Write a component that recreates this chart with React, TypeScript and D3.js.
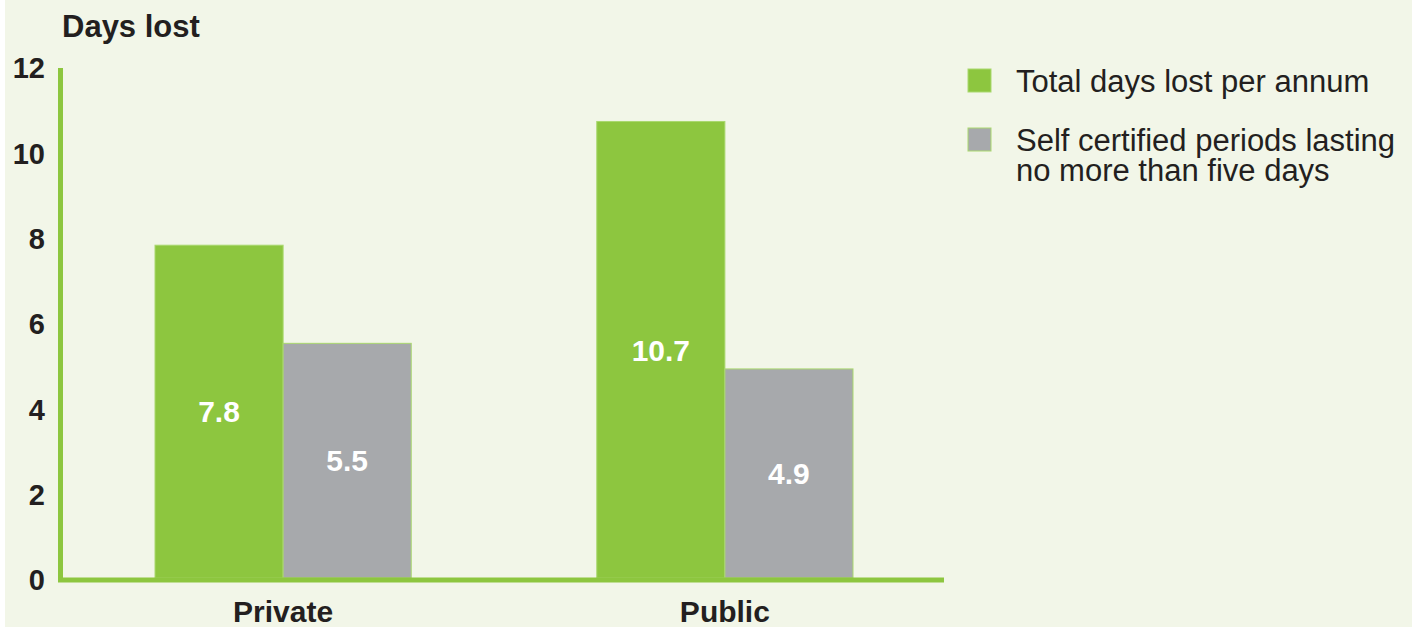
import React from 'react'
import * as d3 from 'd3'

const categories = ['Private', 'Public']
const seriesKeys = ['total', 'selfCert']
const seriesLabels = [['Total days lost per annum'], ['Self certified periods lasting', 'no more than five days']]
const seriesColors = ['#8dc63f', '#a7a9ac']
const totalDays = [7.8, 10.7]
const selfCertDays = [5.5, 4.9]
const yTicks = [0, 2, 4, 6, 8, 10, 12]

const W = 1424
const H = 627
const font = '"Liberation Sans", Arial, Helvetica, sans-serif'
const ink = '#231f20'

export default function App() {
  const y = d3.scaleLinear().domain([0, 12]).range([578, 66])
  const x = d3.scaleBand<string>().domain(categories).range([155, 853]).paddingInner(0.42)
  const xi = d3.scaleBand<string>().domain(seriesKeys).range([0, x.bandwidth()])

  const values = [totalDays, selfCertDays]

  return (
    <div style={{ position: 'absolute', left: 0, top: 0 }}>
      <svg width={W} height={H} style={{ display: 'block' }} fontFamily={font}>
        <rect x={0} y={0} width={W} height={H} fill="#ffffff" />
        <rect x={5} y={0} width={1407} height={H} fill="#f2f6e8" />

        <text x={62} y={37} fontSize={31} fontWeight={700} fill={ink}>Days lost</text>

        {yTicks.map(t => (
          <text key={t} x={45} y={y(t)} dy="0.42em" textAnchor="end" fontSize={29} fontWeight={700} fill={ink}>{t}</text>
        ))}

        {categories.map((c, ci) => (
          <g key={c} transform={`translate(${x(c)},0)`}>
            {seriesKeys.map((k, si) => {
              const v = values[si][ci]
              const bx = xi(k) ?? 0
              return (
                <g key={k}>
                  <rect x={bx} y={y(v)} width={xi.bandwidth()} height={y(0) - y(v)}
                    fill={seriesColors[si]} stroke="#a9d86e" strokeWidth={1} />
                  <text x={bx + xi.bandwidth() / 2} y={(y(v) + y(0)) / 2} dy="0.36em" textAnchor="middle"
                    fontSize={30} fontWeight={700} fill="#ffffff">{v.toFixed(1)}</text>
                </g>
              )
            })}
            <text x={x.bandwidth() / 2} y={622} textAnchor="middle" fontSize={30} fontWeight={700} fill={ink}>{c}</text>
          </g>
        ))}

        <line x1={60.5} x2={60.5} y1={y(12) + 2} y2={582} stroke="#8dc63f" strokeWidth={5} />
        <line x1={58} x2={944} y1={580} y2={580} stroke="#8dc63f" strokeWidth={5} />

        {seriesKeys.map((k, si) => {
          const ly = [69, 128][si]
          return (
            <g key={k}>
              <rect x={968} y={ly} width={23} height={23} fill={seriesColors[si]} stroke="#a9d86e" strokeWidth={1} />
              {seriesLabels[si].map((line, li) => (
                <text key={li} x={1016} y={ly + 23 + li * 30} fontSize={31} fill={ink}>{line}</text>
              ))}
            </g>
          )
        })}
      </svg>
    </div>
  )
}
